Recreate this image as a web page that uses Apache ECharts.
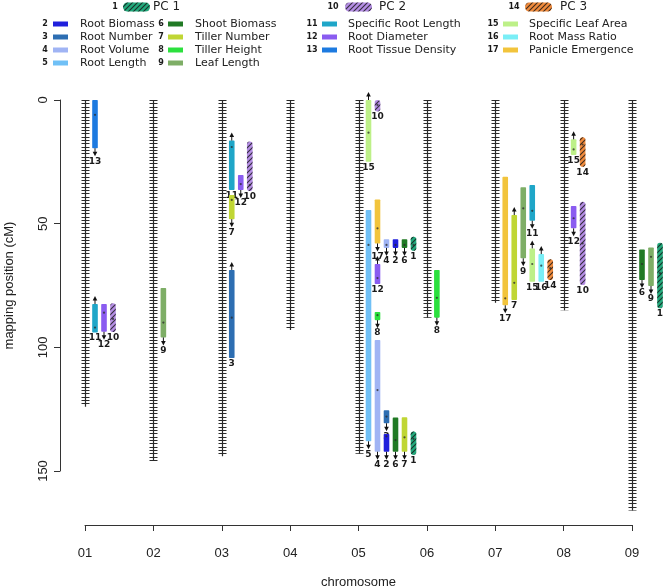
<!DOCTYPE html>
<html>
<head>
<meta charset="utf-8">
<script src="https://cdn.jsdelivr.net/npm/echarts@6/dist/echarts.min.js"></script>
<style>
  html, body { margin: 0; background: #fff; }
  #chart { width: 666px; height: 588px; }
</style>
</head>
<body>
<div id="chart"></div>
<script>
// chromosomes and their lengths (cM)
const chromosomes = ['01', '02', '03', '04', '05', '06', '07', '08', '09']
const chromosomeLengths = [124, 146, 144, 93, 143, 88, 82, 85, 166]
const yTicks = [0, 50, 100, 150]

// traits, by legend number (index 0 -> trait 1)
const traitNames = [
  'PC 1', 'Root Biomass', 'Root Number', 'Root Volume', 'Root Length',
  'Shoot Biomass', 'Tiller Number', 'Tiller Height', 'Leaf Length', 'PC 2',
  'Specific Root Length', 'Root Diameter', 'Root Tissue Density', 'PC 3',
  'Specific Leaf Area', 'Root Mass Ratio', 'Panicle Emergence',
]
const traitColors = [
  '#22a97c', '#2020dc', '#2d6eb2', '#a0b4f4', '#70c0f6',
  '#217a25', '#c0d634', '#2ce03e', '#7eae66', '#b48de4',
  '#1fa6c8', '#8a5cf0', '#1d7ae0', '#f08b3d',
  '#bdf088', '#7aeef6', '#f2c43c',
]
const pcTraits = [1, 10, 14]

// QTL intervals
const qtlTrait = [13, 11, 12, 10, 9, 11, 7, 12, 10, 3, 15, 10, 5, 17, 12, 8, 4, 2, 6, 1, 4, 3, 2, 6, 7, 1, 8, 17, 7, 9, 11, 15, 16, 14, 15, 14, 12, 10, 6, 9, 1]
const qtlChrom = [0, 0, 0, 0, 1, 2, 2, 2, 2, 2, 4, 4, 4, 4, 4, 4, 4, 4, 4, 4, 4, 4, 4, 4, 4, 4, 5, 6, 6, 6, 6, 6, 6, 6, 7, 7, 7, 7, 8, 8, 8]
const qtlLane = [0, 0, 1, 2, 0, 0, 0, 1, 2, 0, 0, 1, 0, 1, 1, 1, 2, 3, 4, 5, 1, 2, 2, 3, 4, 5, 0, 0, 1, 2, 3, 3, 4, 5, 0, 1, 0, 1, 0, 1, 2]
const qtlStart = [0, 82.5, 82.5, 82.2, 76, 16.4, 38.4, 30.3, 16.8, 68.7, 0, 0, 44.5, 40.2, 66.3, 85.7, 56.3, 56.3, 56.3, 55.3, 97, 125.4, 135, 128.4, 128.3, 134, 68.7, 31, 46.5, 35.3, 34.4, 60, 62.3, 64.4, 15.9, 15.1, 42.9, 41.1, 60.4, 59.6, 57.7]
const qtlEnd = [19.5, 94, 93.7, 93.8, 96, 36.4, 48.2, 36.4, 36.8, 104.3, 25, 4.7, 138, 58, 74.4, 89, 59.8, 59.8, 59.8, 61, 142.2, 130.7, 142.2, 142.2, 142.2, 143.5, 88, 83, 80.9, 64, 48.8, 73.5, 73.5, 72.8, 22.2, 27, 51.9, 74.8, 72.8, 75.2, 84.2]
const qtlPeak = [6, 92, 86, 88.5, 90, 19, 40.4, 34, 34.4, 88, 13.2, 2, 58.6, 51.9, 72, 87, 58.6, 58.6, 58.6, 58.6, 117.3, 128, 136, 137.5, 136.4, 137, 80, 80.2, 73.9, 43.8, 44.8, 66.3, 67, 68, 20, 18, 47.8, 58, 66.3, 63.4, 70]
// effect arrow: 1 up, -1 down, 0 none
const qtlEffect = [-1, 1, -1, 0, -1, 1, -1, -1, 0, 1, 1, 0, -1, -1, 1, -1, -1, -1, -1, 0, -1, -1, -1, -1, -1, 0, -1, -1, 1, -1, -1, 1, 1, 0, 1, 0, -1, 0, -1, -1, 0]

const LANE_START = 10
const LANE_STEP = 9
const BAR_W = 5.6

function makeTickPattern() {
  const c = document.createElement('canvas')
  c.width = 1
  c.height = 10
  const g = c.getContext('2d')
  g.fillStyle = '#2a2a2a'
  ;[0, 3, 7].forEach((r) => g.fillRect(0, r, 1, 1))
  return c
}

function makeHatchPattern() {
  const c = document.createElement('canvas')
  c.width = 5
  c.height = 5
  const g = c.getContext('2d')
  g.strokeStyle = 'rgba(20, 20, 20, 0.8)'
  g.lineWidth = 1.1
  g.beginPath()
  g.moveTo(0, 5); g.lineTo(5, 0)
  g.moveTo(-1, 1); g.lineTo(1, -1)
  g.moveTo(4, 6); g.lineTo(6, 4)
  g.stroke()
  return c
}

const tickPattern = { image: makeTickPattern(), repeat: 'repeat' }
const hatchPattern = { image: makeHatchPattern(), repeat: 'repeat' }

function renderChromosome(params, api) {
  const top = api.coord([api.value(0), 0])
  const bottom = api.coord([api.value(0), api.value(1)])
  const cx = Math.round(top[0]) + 0.5
  return {
    type: 'group',
    children: [
      {
        type: 'rect',
        shape: { x: cx - 4, y: top[1], width: 8, height: bottom[1] - top[1] },
        style: { fill: tickPattern },
      },
      {
        type: 'line',
        shape: { x1: cx, y1: top[1], x2: cx, y2: bottom[1] },
        style: { stroke: '#2a2a2a', lineWidth: 1.2 },
      },
    ],
  }
}

function renderQtl(params, api) {
  const chr = api.value(0)
  const lane = api.value(1)
  const trait = api.value(5)
  const effect = api.value(6)
  const a = api.coord([chr, api.value(2)])
  const b = api.coord([chr, api.value(3)])
  const p = api.coord([chr, api.value(4)])
  const cx = a[0] + LANE_START + lane * LANE_STEP
  const top = a[1]
  const bottom = b[1]
  const isPc = pcTraits.includes(trait)
  const shape = { x: cx - BAR_W / 2, y: top, width: BAR_W, height: bottom - top, r: isPc ? BAR_W / 2 : 0.8 }
  const children = [
    { type: 'rect', shape, style: { fill: traitColors[trait - 1] } },
  ]
  if (isPc) {
    children.push({ type: 'rect', shape, style: { fill: hatchPattern } })
  }
  children.push({
    type: 'circle',
    shape: { cx, cy: p[1], r: 1.1 },
    style: { fill: 'rgba(40, 40, 40, 0.75)' },
  })
  if (effect !== 0) {
    const y0 = effect > 0 ? top : bottom
    const dir = effect > 0 ? -1 : 1
    children.push({
      type: 'line',
      shape: { x1: cx, y1: y0, x2: cx, y2: y0 + dir * 5 },
      style: { stroke: '#111', lineWidth: 1 },
    })
    children.push({
      type: 'polygon',
      shape: { points: [[cx - 2.3, y0 + dir * 3.5], [cx + 2.3, y0 + dir * 3.5], [cx, y0 + dir * 8]] },
      style: { fill: '#111' },
    })
  }
  children.push({
    type: 'text',
    style: {
      x: cx,
      y: bottom + (effect < 0 ? 13 : 5.5),
      text: String(trait),
      fill: '#1a1a1a',
      font: 'bold 9px "DejaVu Sans"',
      align: 'center',
      verticalAlign: 'middle',
    },
  })
  return { type: 'group', children }
}

// legend layout (pixels)
const legendPcX = [[115, 123, 153], [333, 345, 379], [514, 525, 560]]
const legendColumns = [[2, 3, 4, 5], [6, 7, 8, 9], [11, 12, 13], [15, 16, 17]]
const legendColX = [[45, 53, 80], [161, 168, 195], [312, 322, 348], [493, 503, 529]]
const legendRowY = [24, 37, 50, 63]

function buildLegend() {
  const els = []
  const labelFont = '11px "DejaVu Sans"'
  const numFont = 'bold 8px "DejaVu Sans"'
  pcTraits.forEach((t, i) => {
    const [nx, sx, tx] = legendPcX[i]
    const y = 7
    els.push({ type: 'text', x: nx, y, style: { text: String(t), font: numFont, fill: '#1a1a1a', align: 'center', verticalAlign: 'middle' } })
    const shape = { x: sx, y: y - 4.5, width: 27, height: 9, r: 4.5 }
    els.push({ type: 'rect', shape, style: { fill: traitColors[t - 1] } })
    els.push({ type: 'rect', shape, style: { fill: hatchPattern } })
    els.push({ type: 'text', x: tx, y, style: { text: traitNames[t - 1], font: '12px "DejaVu Sans"', fill: '#222', verticalAlign: 'middle' } })
  })
  legendColumns.forEach((col, ci) => {
    const [nx, sx, tx] = legendColX[ci]
    col.forEach((t, ri) => {
      const y = legendRowY[ri]
      els.push({ type: 'text', x: nx, y, style: { text: String(t), font: numFont, fill: '#1a1a1a', align: 'center', verticalAlign: 'middle' } })
      els.push({ type: 'rect', shape: { x: sx, y: y - 2.5, width: 15, height: 5 }, style: { fill: traitColors[t - 1] } })
      els.push({ type: 'text', x: tx, y, style: { text: traitNames[t - 1], font: labelFont, fill: '#222', verticalAlign: 'middle' } })
    })
  })
  return els
}

const chart = echarts.init(document.getElementById('chart'))
const axisFont = 'Liberation Sans'

chart.setOption({
  animation: false,
  grid: { left: 85, right: 34, top: 100, bottom: 117, outerBoundsMode: 'none', containLabel: false },
  xAxis: {
    type: 'category',
    data: chromosomes,
    boundaryGap: false,
    offset: 54,
    axisLine: { show: true, onZero: false, lineStyle: { color: '#333', width: 1 } },
    axisTick: { show: true, length: 6, lineStyle: { color: '#333' } },
    axisLabel: { color: '#222', fontSize: 13, fontFamily: axisFont, margin: 22 },
    splitLine: { show: false },
    name: 'chromosome',
    nameLocation: 'middle',
    nameGap: 51,
    nameTextStyle: { color: '#222', fontSize: 13, fontFamily: axisFont },
  },
  yAxis: {
    type: 'value',
    inverse: true,
    min: yTicks[0],
    max: yTicks[yTicks.length - 1],
    interval: yTicks[1] - yTicks[0],
    offset: 25,
    axisLine: { show: true, lineStyle: { color: '#333', width: 1 } },
    axisTick: { show: true, length: 6, lineStyle: { color: '#333' } },
    axisLabel: { color: '#222', fontSize: 13, fontFamily: axisFont, rotate: 90, margin: 10 },
    splitLine: { show: false },
    name: 'mapping position (cM)',
    nameLocation: 'middle',
    nameGap: 44,
    nameTextStyle: { color: '#222', fontSize: 13, fontFamily: axisFont },
  },
  graphic: buildLegend(),
  series: [
    {
      type: 'custom',
      name: 'chromosomes',
      renderItem: renderChromosome,
      data: chromosomes.map((c, i) => [i, chromosomeLengths[i]]),
      encode: { x: 0, y: 1 },
      clip: false,
      silent: true,
    },
    {
      type: 'custom',
      name: 'qtl',
      renderItem: renderQtl,
      data: qtlTrait.map((t, i) => [qtlChrom[i], qtlLane[i], qtlStart[i], qtlEnd[i], qtlPeak[i], t, qtlEffect[i]]),
      encode: { x: 0, y: [2, 3] },
      clip: false,
      silent: true,
    },
  ],
})
</script>
</body>
</html>
